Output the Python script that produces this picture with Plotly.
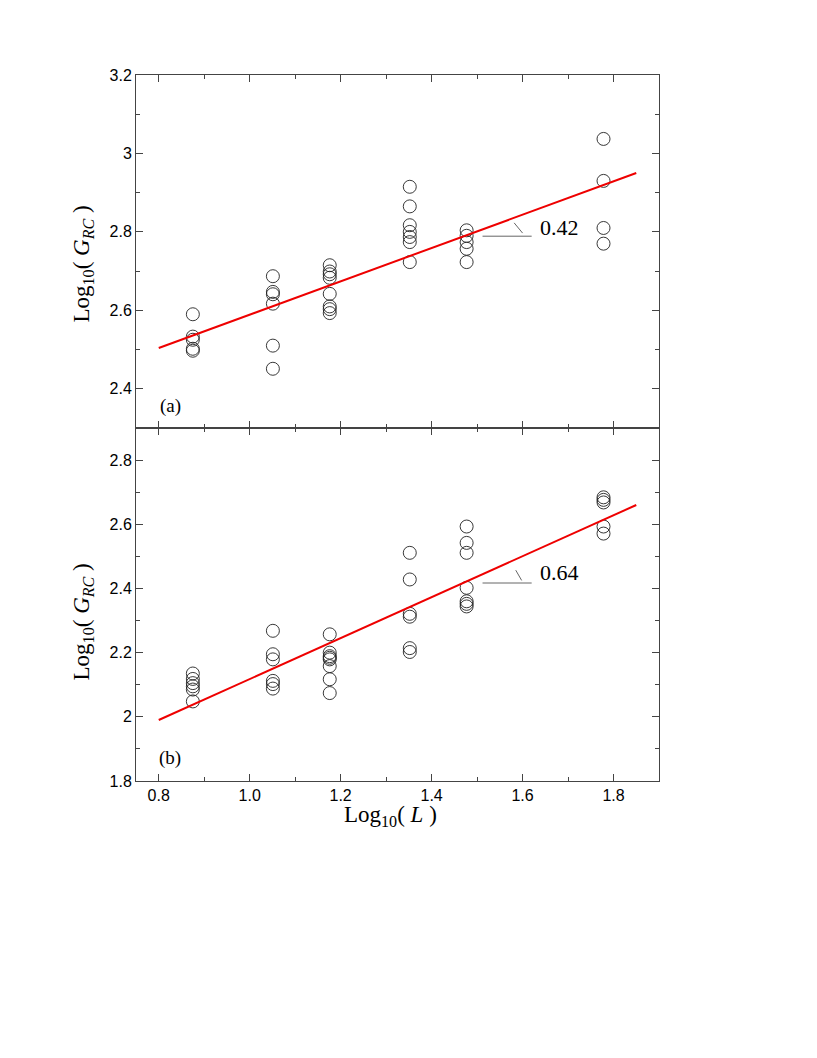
import plotly.graph_objects as go
from plotly.subplots import make_subplots

# ---------- data ------------------------------------------------------------
LOG_L = [0.875, 1.051, 1.176, 1.352, 1.477, 1.778]

# panel (a): Log10(G_RC) per system size
G_A = [
    [2.590, 2.533, 2.525, 2.502, 2.497],
    [2.687, 2.647, 2.641, 2.617, 2.510, 2.451],
    [2.715, 2.699, 2.692, 2.683, 2.642, 2.610, 2.603, 2.593],
    [2.915, 2.865, 2.817, 2.800, 2.787, 2.774, 2.723],
    [2.804, 2.790, 2.774, 2.757, 2.723],
    [3.037, 2.930, 2.810, 2.770],
]
# panel (b)
G_B = [
    [2.135, 2.118, 2.105, 2.095, 2.085, 2.048],
    [2.268, 2.195, 2.179, 2.112, 2.102, 2.088],
    [2.257, 2.200, 2.189, 2.184, 2.179, 2.158, 2.117, 2.074],
    [2.511, 2.428, 2.321, 2.312, 2.214, 2.202],
    [2.593, 2.542, 2.511, 2.402, 2.360, 2.352, 2.344],
    [2.684, 2.676, 2.668, 2.593, 2.571],
]

FIT_X = [0.8, 1.85]
FIT_A = [2.504, 2.95]
FIT_B = [1.99, 2.66]
SLOPE_A = "0.42"
SLOPE_B = "0.64"

X_TICKS = [0.8, 1.0, 1.2, 1.4, 1.6, 1.8]
X_TICK_TEXT = ["0.8", "1.0", "1.2", "1.4", "1.6", "1.8"]
Y_TICKS_A = [2.4, 2.6, 2.8, 3.0, 3.2]
Y_TICK_TEXT_A = ["2.4", "2.6", "2.8", "3", "3.2"]
Y_TICKS_B = [1.8, 2.0, 2.2, 2.4, 2.6, 2.8]
Y_TICK_TEXT_B = ["1.8", "2", "2.2", "2.4", "2.6", "2.8"]

SERIF = "Liberation Serif, Times New Roman, serif"
SANS = "Liberation Sans, Arial, sans-serif"
FRAME = "#444"


def flatten(groups):
    xs, ys = [], []
    for xv, vals in zip(LOG_L, groups):
        xs += [xv] * len(vals)
        ys += vals
    return xs, ys


fig = make_subplots(rows=2, cols=1, shared_xaxes=True, vertical_spacing=0)

for row, (groups, fit) in enumerate([(G_A, FIT_A), (G_B, FIT_B)], start=1):
    xs, ys = flatten(groups)
    fig.add_trace(go.Scatter(
        x=xs, y=ys, mode="markers",
        marker=dict(symbol="circle-open", size=13, color="#222", line=dict(width=0.9)),
        showlegend=False,
    ), row=row, col=1)
    fig.add_trace(go.Scatter(
        x=FIT_X, y=fit, mode="lines",
        line=dict(color="#ee0000", width=2),
        showlegend=False,
    ), row=row, col=1)

# axes ------------------------------------------------------------------------
common = dict(
    showline=True, linecolor=FRAME, linewidth=1, mirror="allticks",
    ticks="inside", ticklen=7, tickcolor=FRAME, tickwidth=1,
    showgrid=False, zeroline=False,
    tickfont=dict(family=SANS, size=16, color="black"),
    minor=dict(ticks="inside", ticklen=4, tickcolor=FRAME,
               tickmode="linear", tick0=0, dtick=0.1, showgrid=False),
)
fig.update_xaxes(range=[0.75, 1.9], tickmode="array",
                 tickvals=X_TICKS, ticktext=X_TICK_TEXT, **common)
fig.update_xaxes(showticklabels=False, row=1, col=1)
fig.update_yaxes(range=[2.3, 3.2], tickmode="array",
                 tickvals=Y_TICKS_A, ticktext=Y_TICK_TEXT_A, row=1, col=1, **common)
fig.update_yaxes(range=[1.8, 2.9], tickmode="array",
                 tickvals=Y_TICKS_B, ticktext=Y_TICK_TEXT_B, row=2, col=1, **common)

# leader lines to the slope labels ------------------------------------------
leader = dict(color="#666", width=1)
for xr, yr, yh, s0, s1 in [
    ("x", "y", 2.789, (1.5815, 2.823), (1.600, 2.797)),
    ("x2", "y2", 2.417, (1.585, 2.457), (1.598, 2.425)),
]:
    fig.add_shape(type="line", xref=xr, yref=yr, x0=1.512, x1=1.620,
                  y0=yh, y1=yh, line=leader)
    fig.add_shape(type="line", xref=xr, yref=yr, x0=s0[0], y0=s0[1],
                  x1=s1[0], y1=s1[1], line=leader)

fig.add_annotation(text=SLOPE_A, x=1.633, y=2.811, xref="x", yref="y",
                   xanchor="left", yanchor="middle", showarrow=False,
                   font=dict(family=SERIF, size=22, color="black"))
fig.add_annotation(text=SLOPE_B, x=1.633, y=2.451, xref="x2", yref="y2",
                   xanchor="left", yanchor="middle", showarrow=False,
                   font=dict(family=SERIF, size=22, color="black"))

fig.add_annotation(text="(a)", x=0.825, y=2.357, xref="x", yref="y",
                   xanchor="center", yanchor="middle", showarrow=False,
                   font=dict(family=SERIF, size=19, color="black"))
fig.add_annotation(text="(b)", x=0.825, y=1.871, xref="x2", yref="y2",
                   xanchor="center", yanchor="middle", showarrow=False,
                   font=dict(family=SERIF, size=19, color="black"))

# axis titles -----------------------------------------------------------------
ytitle = "Log<sub>10</sub>( <i>G</i><sub><i>RC</i></sub> )"
for yr, yc in [("y domain", 0.465), ("y2 domain", 0.451)]:
    fig.add_annotation(text=ytitle, x=-0.102, y=yc, xref="x domain", yref=yr,
                       xanchor="center", yanchor="middle",
                       textangle=-90, showarrow=False,
                       font=dict(family=SERIF, size=23, color="black"))
fig.add_annotation(text="Log<sub>10</sub>( <i>L</i> )", x=0.486, y=-0.098,
                   xref="x2 domain", yref="y2 domain", showarrow=False,
                   xanchor="center", yanchor="middle",
                   font=dict(family=SERIF, size=23, color="black"))

# the page body adds an 8px offset, so the figure is sized to compensate
fig.update_layout(
    width=809, height=1050,
    margin=dict(l=128, r=158, t=67, b=277),
    paper_bgcolor="white", plot_bgcolor="white",
)

fig.write_html("out.html")
